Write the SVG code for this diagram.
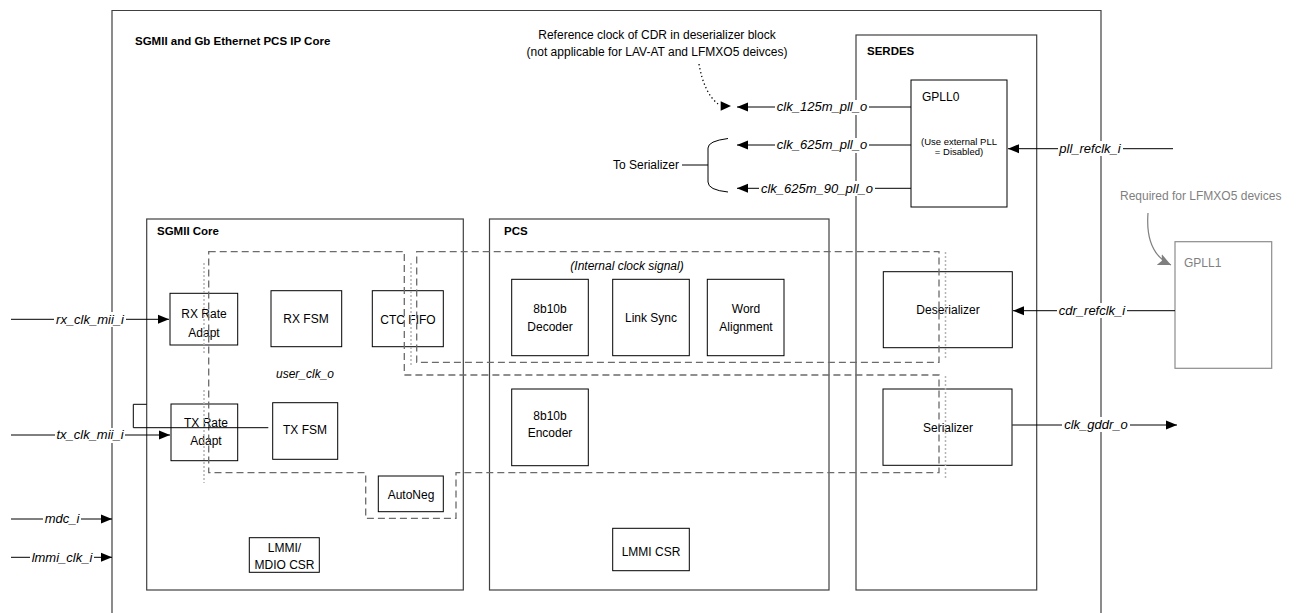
<svg xmlns="http://www.w3.org/2000/svg" width="1304" height="613" viewBox="0 0 1304 613">
<defs>
<marker id="ah" markerUnits="userSpaceOnUse" markerWidth="12" markerHeight="10" viewBox="0 0 12 10" refX="11" refY="5" orient="auto">
<path d="M0,0.5 L11,5 L0,9.5 Z" fill="#000"/>
</marker>
<marker id="ahg" markerUnits="userSpaceOnUse" markerWidth="14" markerHeight="12" viewBox="0 0 14 12" refX="13" refY="6" orient="auto">
<path d="M0,0 L13,6 L0,12 L3,6 Z" fill="#7f7f7f"/>
</marker>
<style>
text{font-family:"Liberation Sans",Arial,sans-serif;fill:#000}
.t{font-size:12px}
.b{font-size:11.5px;font-weight:bold}
.i{font-size:13px;font-style:italic}
.s{font-size:9.5px}
.g{fill:#7f7f7f}
.c{text-anchor:middle}
.bg{fill:#fff;stroke:none}
.box{fill:#fff;stroke:#000;stroke-width:1}
.cont{fill:none;stroke:#404040;stroke-width:1.2}
.wire{fill:none;stroke:#000;stroke-width:1}
.dash{fill:none;stroke:#6b6b6b;stroke-width:1.3;stroke-dasharray:7 4}
.dot{fill:none;stroke:#b4b4b4;stroke-width:1.5;stroke-dasharray:2 2}
</style>
</defs>
<rect width="1304" height="613" fill="#fff"/>

<g id="ip-core">
<path class="cont" d="M112,620 V10.5 H1101 V620"/>
<text class="b" x="135" y="45">SGMII and Gb Ethernet PCS IP Core</text>
</g>

<g id="sgmii-core">
<rect class="cont" x="146.7" y="219" width="316.6" height="371"/>
<text class="b" x="157" y="235">SGMII Core</text>
</g>
<g id="pcs">
<rect class="cont" x="489.5" y="219" width="339.5" height="371"/>
<text class="b" x="504" y="235">PCS</text>
</g>
<g id="serdes">
<rect class="cont" x="856" y="35" width="180.7" height="555"/>
<text class="b" x="867" y="55">SERDES</text>
</g>

<g id="gpll0">
<rect class="box" x="911" y="80" width="96" height="127"/>
<text class="t" x="922" y="101">GPLL0</text>
<text class="s c" x="959" y="145">(Use external PLL</text>
<text class="s c" x="959" y="155">= Disabled)</text>
</g>
<g id="gpll1">
<rect x="1175" y="241.7" width="96.7" height="126.6" fill="#fff" stroke="#8c8c8c" stroke-width="1.2"/>
<text class="t g" x="1184" y="267">GPLL1</text>
</g>

<g id="rx-rate-adapt"><rect class="box" x="170" y="293.3" width="67.7" height="51.7"/>
<text class="t c" x="204" y="318">RX Rate</text><text class="t c" x="204" y="337">Adapt</text></g>
<g id="rx-fsm"><rect class="box" x="271" y="290.7" width="70.7" height="56"/>
<text class="t c" x="306" y="322.5">RX FSM</text></g>
<g id="ctc-fifo"><rect class="box" x="372.3" y="290.7" width="71" height="56"/>
<text class="t c" x="408" y="324">CTC FIFO</text></g>
<g id="tx-rate-adapt"><rect class="box" x="171" y="404" width="66.7" height="56.7"/>
<text class="t c" x="206" y="427">TX Rate</text><text class="t c" x="206" y="444.5">Adapt</text></g>
<g id="tx-fsm"><rect class="box" x="272.7" y="402.7" width="65" height="56.6"/>
<text class="t c" x="305" y="433.5">TX FSM</text></g>
<g id="autoneg"><rect class="box" x="378.3" y="476" width="65" height="35.7"/>
<text class="t c" x="411" y="499">AutoNeg</text></g>
<g id="lmmi-mdio-csr"><rect class="box" x="249.3" y="537.7" width="70" height="34.6"/>
<text class="t c" x="284.5" y="551.5">LMMI/</text><text class="t c" x="284.5" y="569">MDIO CSR</text></g>

<g id="decoder"><rect class="box" x="511.7" y="279.3" width="76.6" height="76.4"/>
<text class="t c" x="550" y="313">8b10b</text><text class="t c" x="550" y="331">Decoder</text></g>
<g id="link-sync"><rect class="box" x="612.7" y="279.3" width="76.6" height="76.4"/>
<text class="t c" x="651" y="322">Link Sync</text></g>
<g id="word-alignment"><rect class="box" x="707.3" y="279.3" width="76.7" height="76.4"/>
<text class="t c" x="746" y="313">Word</text><text class="t c" x="746" y="331">Alignment</text></g>
<g id="encoder"><rect class="box" x="511.7" y="389" width="76.6" height="76.7"/>
<text class="t c" x="550" y="420">8b10b</text><text class="t c" x="550" y="437">Encoder</text></g>
<g id="lmmi-csr"><rect class="box" x="612.7" y="528.3" width="76.6" height="42.4"/>
<text class="t c" x="651" y="556">LMMI CSR</text></g>

<g id="deserializer"><rect class="box" x="883.3" y="271.7" width="129" height="76"/>
<text class="t c" x="948" y="314">Deserializer</text></g>
<g id="serializer"><rect class="box" x="883" y="389" width="129" height="76.3"/>
<text class="t c" x="948" y="432">Serializer</text></g>

<g id="clock-domains">
<path class="dash" d="M208.7,251.7 H404.3 V375 H939 V472.7 H456 V518.3 H365.7 V472.7 H208.7 Z"/>
<path class="dash" d="M416.7,251.7 H939 V362.3 H416.7 Z"/>
<path class="dot" d="M204,263 V355 M204,390 V483 M411,263 V365 M945.5,252 V358 M945.5,376 V480"/>
<text class="t c" x="305" y="378" font-style="italic">user_clk_o</text>
<text class="t c" x="627" y="270" font-style="italic">(Internal clock signal)</text>
</g>

<g id="annotations">
<text class="t c" x="657" y="39">Reference clock of CDR in deserializer block</text>
<text class="t c" x="657" y="56">(not applicable for LAV-AT and LFMXO5 deivces)</text>
<text class="t" x="679" y="169" text-anchor="end">To Serializer</text>
<text class="t g" x="1120" y="200">Required for LFMXO5 devices</text>
</g>

<g id="connectors">
<path class="wire" d="M11,319.3 H169" marker-end="url(#ah)"/>
<path class="wire" d="M11,435 H170" marker-end="url(#ah)"/>
<path class="wire" d="M11,519 H112" marker-end="url(#ah)"/>
<path class="wire" d="M11,557.3 H112" marker-end="url(#ah)"/>
<path class="wire" d="M146.7,404.3 H133.3 V427.7 H268.3"/>
<path class="wire" d="M911,107 H737" marker-end="url(#ah)"/>
<path class="wire" d="M911,145 H737" marker-end="url(#ah)"/>
<path class="wire" d="M911,188.3 H737" marker-end="url(#ah)"/>
<path class="wire" d="M1173,148.7 H1008" marker-end="url(#ah)"/>
<path class="wire" d="M1175,310.7 H1013" marker-end="url(#ah)"/>
<path class="wire" d="M1012.3,425 H1177" marker-end="url(#ah)"/>
<path d="M699,64 Q704,93 718,104" fill="none" stroke="#000" stroke-width="1.3" stroke-dasharray="1.3 2.7"/>
<path d="M720.7,101.2 L731,106 L720.7,110.8 Z" fill="#000"/>
<path class="wire" d="M728,138.5 Q708,141 708,148 V182 Q708,190 728,192"/>
<path class="wire" d="M682,165 H708" stroke-width="1.5"/>
<path d="M1148,213 Q1145,253 1171,265" fill="none" stroke="#7f7f7f" stroke-width="1.2" marker-end="url(#ahg)"/>
<rect class="bg" x="54" y="312" width="72" height="15"/>
<rect class="bg" x="55" y="428" width="70" height="15"/>
<rect class="bg" x="43" y="512" width="38" height="15"/>
<rect class="bg" x="30" y="550" width="64" height="15"/>
<rect class="bg" x="775" y="100" width="94" height="15"/>
<rect class="bg" x="775" y="138" width="94" height="15"/>
<rect class="bg" x="759" y="181" width="116" height="15"/>
<rect class="bg" x="1058" y="141" width="65" height="15"/>
<rect class="bg" x="1057" y="303" width="70" height="15"/>
<rect class="bg" x="1062" y="417" width="68" height="15"/>
<text class="i c" x="90" y="323.5">rx_clk_mii_i</text>
<text class="i c" x="90" y="439">tx_clk_mii_i</text>
<text class="i c" x="62" y="523">mdc_i</text>
<text class="i c" x="62" y="561.5">lmmi_clk_i</text>
<text class="i c" x="822" y="111">clk_125m_pll_o</text>
<text class="i c" x="822" y="149">clk_625m_pll_o</text>
<text class="i c" x="817" y="192.5">clk_625m_90_pll_o</text>
<text class="i c" x="1090" y="153">pll_refclk_i</text>
<text class="i c" x="1092" y="315">cdr_refclk_i</text>
<text class="i c" x="1096" y="429">clk_gddr_o</text>
</g>
</svg>
